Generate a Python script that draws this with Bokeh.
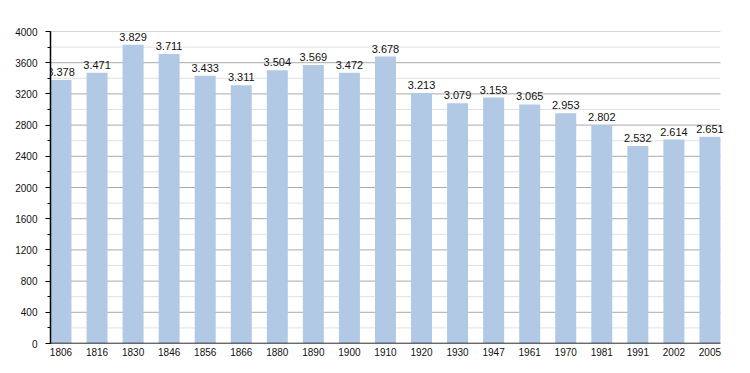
from bokeh.plotting import figure
from bokeh.models import ColumnDataSource, FixedTicker, Range1d, LabelSet
from bokeh.core.properties import value
from bokeh.embed import file_html
from bokeh.resources import INLINE

years = ["1806", "1816", "1830", "1846", "1856", "1866", "1880", "1890", "1900", "1910",
         "1920", "1930", "1947", "1961", "1970", "1981", "1991", "2002", "2005"]
population = [3378, 3471, 3829, 3711, 3433, 3311, 3504, 3569, 3472, 3678,
              3213, 3079, 3153, 3065, 2953, 2802, 2532, 2614, 2651]
y_ticks = list(range(0, 4001, 400))
y_minor = list(range(200, 4001, 400))

idx = list(range(len(years)))
labels = [f"{v/1000:.3f}" for v in population]
src = ColumnDataSource(dict(x=idx, top=population, lab=labels))

bw = 0.582
x0 = -bw / 2
x1 = len(years) - 1 + bw / 2
extra = 0.39  # room on the right for the last value label
p = figure(frame_width=684, frame_height=312, output_backend="svg", toolbar_location=None,
           x_range=Range1d(x0, x1 + extra), y_range=Range1d(0, 4000),
           min_border_left=50, min_border_right=0, min_border_top=31, min_border_bottom=10)
p.outline_line_color = None
p.background_fill_color = "white"
p.xgrid.grid_line_color = None
p.ygrid.grid_line_color = None

# grid lines limited to the bar span
p.segment(x0=[x0] * len(y_minor), x1=[x1] * len(y_minor), y0=y_minor, y1=y_minor,
          line_color="#e0e0e0", line_width=1)
p.segment(x0=[x0] * len(y_ticks), x1=[x1] * len(y_ticks), y0=y_ticks, y1=y_ticks,
          line_color="#aaaaaa", line_width=1)

p.vbar(x="x", top="top", width=bw, source=src, fill_color="#b1c9e4", line_color=None)

# x axis baseline
p.segment(x0=[x0], x1=[x1], y0=[0], y1=[0], line_color="black", line_width=1.5)

p.add_layout(LabelSet(x="x", y="top", text="lab", source=src, text_align="center",
                      text_baseline="bottom", y_offset=4, text_font=value("Liberation Sans"),
                      text_font_size="11px", text_color="#111111"))

p.xaxis.ticker = FixedTicker(ticks=idx)
p.xaxis.major_label_overrides = {i: y for i, y in enumerate(years)}
p.xaxis.major_tick_line_color = None
p.xaxis.major_tick_in = 0
p.xaxis.major_tick_out = 0
p.xaxis.minor_tick_line_color = None
p.xaxis.axis_line_color = None
p.xaxis.major_label_standoff = 4

p.yaxis.ticker = FixedTicker(ticks=y_ticks, minor_ticks=list(range(0, 4001, 200)))
p.yaxis.axis_line_color = "black"
p.yaxis.axis_line_width = 1.5
p.yaxis.major_tick_in = 0
p.yaxis.major_tick_out = 5
p.yaxis.minor_tick_in = 0
p.yaxis.minor_tick_out = 3
p.yaxis.major_label_standoff = 8

for ax in (p.xaxis, p.yaxis):
    ax.major_label_text_font = "Liberation Sans"
    ax.major_label_text_font_size = "10px"
    ax.major_label_text_color = "#111111"

open("out.html", "w").write(file_html(p, INLINE))
